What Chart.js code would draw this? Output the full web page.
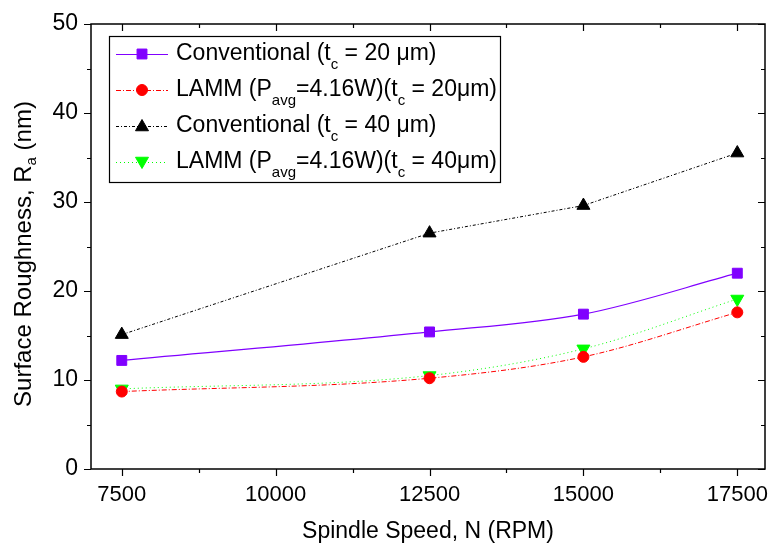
<!DOCTYPE html>
<html>
<head>
<meta charset="utf-8">
<script src="https://cdn.jsdelivr.net/npm/chart.js@4.4.1/dist/chart.umd.min.js"></script>
<style>
  html, body { margin: 0; padding: 0; background: #fff; }
  #wrap { width: 769px; height: 546px; }
</style>
</head>
<body>
<div id="wrap"><canvas id="roughChart" width="769" height="546"></canvas></div>
<script>
// spindle speed (RPM)
var speeds = [7500, 12500, 15000, 17500];
// surface roughness Ra (nm)
var conv20 = [12.2, 15.4, 17.4, 22.0];
var lamm20 = [8.7, 10.2, 12.6, 17.6];
var conv40 = [15.1, 26.5, 29.6, 35.5];
var lamm40 = [9.0, 10.5, 13.5, 19.1];

var xTicks = [7500, 10000, 12500, 15000, 17500];
var yTicks = [0, 10, 20, 30, 40, 50];

var FONT = "'Liberation Sans', Arial, sans-serif";

function pts(ys) {
    return speeds.map(function (x, i) { return {x: x, y: ys[i]}; });
}

// legend rows: text parts, 1 = subscript
var legendRows = [
    {color: "#8000FF", dash: [], style: "rect", rot: 0, r: 7, parts: [["Conventional (t", 0], ["c", 1], [" = 20 \u03bcm)", 0]]},
    {color: "#FF0000", dash: [5, 2, 1, 2], style: "circle", rot: 0, r: 5.5, parts: [["LAMM (P", 0], ["avg", 1], ["=4.16W)(t", 0], ["c", 1], [" = 20\u03bcm)", 0]]},
    {color: "#000000", dash: [3, 2, 1, 2], style: "triangle", rot: 0, r: 7.5, parts: [["Conventional (t", 0], ["c", 1], [" = 40 \u03bcm)", 0]]},
    {color: "#00FF00", dash: [1, 3], style: "triangle", rot: 180, r: 7.5, parts: [["LAMM (P", 0], ["avg", 1], ["=4.16W)(t", 0], ["c", 1], [" = 40\u03bcm)", 0]]}
];

var framePlugin = {
    id: 'frame',
    afterDraw: function (chart) {
        var ctx = chart.ctx, a = chart.chartArea;
        var xs = chart.scales.x, ys = chart.scales.y;
        ctx.save();
        ctx.strokeStyle = "#000";
        ctx.lineWidth = 1.5;
        ctx.setLineDash([]);
        ctx.strokeRect(a.left, a.top, a.right - a.left, a.bottom - a.top);
        ctx.lineWidth = 1.2;
        // x ticks: out at bottom, in at top
        for (var v = 7500; v <= 17500; v += 1250) {
            var px = Math.round(xs.getPixelForValue(v)) + 0.5;
            var len = (v % 2500 === 0) ? 7 : 4;
            ctx.beginPath();
            ctx.moveTo(px, a.bottom); ctx.lineTo(px, a.bottom + len);
            ctx.moveTo(px, a.top); ctx.lineTo(px, a.top + len);
            ctx.stroke();
        }
        // y ticks: out at left, in at right
        for (var w = 0; w <= 50; w += 5) {
            var py = Math.round(ys.getPixelForValue(w)) + 0.5;
            var l2 = (w % 10 === 0) ? 7 : 4;
            ctx.beginPath();
            ctx.moveTo(a.left, py); ctx.lineTo(a.left - l2, py);
            ctx.moveTo(a.right, py); ctx.lineTo(a.right - l2, py);
            ctx.stroke();
        }
        ctx.fillStyle = "#000";
        // x tick labels
        ctx.font = "22px " + FONT;
        ctx.textAlign = "center";
        ctx.textBaseline = "top";
        xTicks.forEach(function (t) {
            ctx.fillText(String(t), xs.getPixelForValue(t), a.bottom + 15);
        });
        // x axis title
        ctx.font = "23px " + FONT;
        ctx.textBaseline = "alphabetic";
        ctx.fillText("Spindle Speed, N (RPM)", 428, 538);
        // y axis title with subscript
        ctx.translate(31, 254);
        ctx.rotate(-Math.PI / 2);
        ctx.textAlign = "left";
        var t1 = "Surface Roughness, R", t2 = "a", t3 = " (nm)";
        ctx.font = "24px " + FONT;
        var w1 = ctx.measureText(t1).width, w3 = ctx.measureText(t3).width;
        ctx.font = "15px " + FONT;
        var w2 = ctx.measureText(t2).width;
        var x0 = -(w1 + w2 + w3) / 2;
        ctx.font = "24px " + FONT;
        ctx.fillText(t1, x0, 0);
        ctx.font = "15px " + FONT;
        ctx.fillText(t2, x0 + w1, 5);
        ctx.font = "24px " + FONT;
        ctx.fillText(t3, x0 + w1 + w2, 0);
        ctx.restore();

        // legend box
        ctx.save();
        ctx.strokeStyle = "#000";
        ctx.lineWidth = 1.2;
        ctx.fillStyle = "#fff";
        ctx.fillRect(109, 36, 391, 146);
        ctx.strokeRect(109.5, 36.5, 391, 146);
        legendRows.forEach(function (r, i) {
            var y = 54 + i * 36;
            ctx.strokeStyle = r.color;
            ctx.lineWidth = 1;
            ctx.setLineDash(r.dash);
            ctx.beginPath();
            ctx.moveTo(116, y + 0.5); ctx.lineTo(168, y + 0.5);
            ctx.stroke();
            ctx.setLineDash([]);
            ctx.fillStyle = r.color;
            Chart.helpers.drawPoint(ctx, {pointStyle: r.style, radius: r.r, rotation: r.rot, borderWidth: 1},
                142, y + (r.style === 'triangle' ? (r.rot ? -1 : 1) : 0));
            var x = 176;
            ctx.fillStyle = "#000";
            ctx.textAlign = "left";
            ctx.textBaseline = "middle";
            r.parts.forEach(function (p) {
                if (p[1]) {
                    ctx.font = "15px " + FONT;
                    ctx.fillText(p[0], x, y + 11);
                } else {
                    ctx.font = "23px " + FONT;
                    ctx.fillText(p[0], x, y);
                }
                x += ctx.measureText(p[0]).width;
            });
        });
        ctx.restore();
    }
};

var ctx = document.getElementById('roughChart');

var myChart = new Chart(ctx, {
    type: 'line',
    data: {
        datasets: [{
            label: 'Conventional (tc = 20 um)',
            data: pts(conv20),
            borderColor: "#8000FF",
            backgroundColor: "#8000FF",
            borderWidth: 1.2,
            pointStyle: 'rect',
            pointRadius: 7,
            pointBorderWidth: 1,
            cubicInterpolationMode: 'monotone'
        }, {
            label: 'LAMM (Pavg=4.16W)(tc = 20um)',
            data: pts(lamm20),
            borderColor: "#FF0000",
            backgroundColor: "#FF0000",
            borderWidth: 1,
            borderDash: [5, 2, 1, 2],
            pointStyle: 'circle',
            pointRadius: 5.5,
            pointBorderWidth: 1,
            cubicInterpolationMode: 'monotone'
        }, {
            label: 'Conventional (tc = 40 um)',
            data: pts(conv40),
            borderColor: "#000000",
            backgroundColor: "#000000",
            borderWidth: 1,
            borderDash: [3, 2, 1, 2],
            pointStyle: 'triangle',
            pointRadius: 7.5,
            pointBorderWidth: 1,
            tension: 0
        }, {
            label: 'LAMM (Pavg=4.16W)(tc = 40um)',
            data: pts(lamm40),
            borderColor: "#00FF00",
            backgroundColor: "#00FF00",
            borderWidth: 1,
            borderDash: [1, 3],
            pointStyle: 'triangle',
            pointRotation: 180,
            pointRadius: 7.5,
            pointBorderWidth: 1,
            cubicInterpolationMode: 'monotone'
        }]
    },
    options: {
        responsive: false,
        animation: false,
        layout: { autoPadding: false, padding: { top: 24, right: 4, left: 0, bottom: 0 } },
        plugins: {
            legend: { display: false },
            tooltip: { enabled: false }
        },
        scales: {
            x: {
                type: 'linear',
                min: 7000,
                max: 17950,
                afterFit: function (s) { s.height = 77; },
                grid: { display: false, drawTicks: false },
                border: { display: false },
                ticks: { display: false }
            },
            y: {
                min: 0,
                max: 50,
                afterBuildTicks: function (s) {
                    s.ticks = yTicks.map(function (v) { return {value: v}; });
                },
                afterFit: function (s) {
                    s.width = 91;
                    s.paddingTop = 0;
                    s.paddingBottom = 0;
                },
                grid: { display: false, drawTicks: false },
                border: { display: false },
                ticks: {
                    color: "#000",
                    padding: 13,
                    callback: function (v) { return String(v); },
                    font: { family: FONT, size: 23 }
                }
            }
        }
    },
    plugins: [framePlugin]
});
</script>
</body>
</html>
